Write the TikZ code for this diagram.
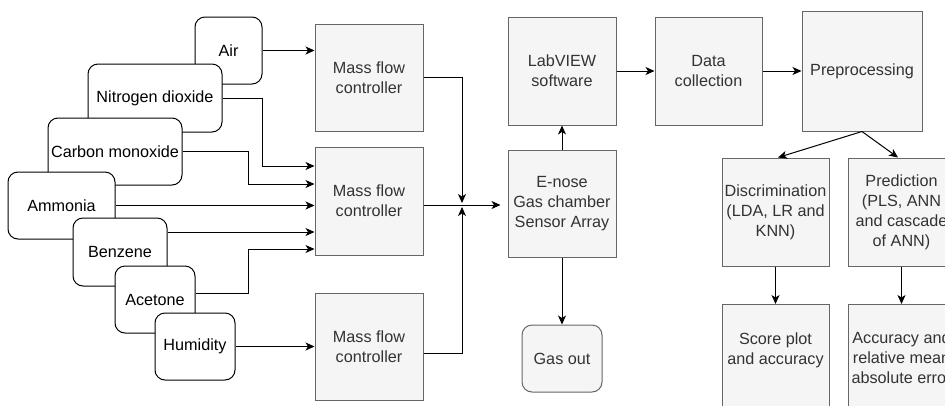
\documentclass[tikz,border=0pt]{standalone}
\usepackage{fontspec}
\setmainfont{Liberation Sans}
\usetikzlibrary{arrows.meta,calc}

\definecolor{boxfill}{HTML}{F5F5F5}
\definecolor{boxline}{HTML}{666666}
\definecolor{boxtext}{HTML}{333333}

\begin{document}
\begin{tikzpicture}[x=1pt,y=-1pt,
  every node/.style={font=\fontsize{16.2}{20}\selectfont},
  gas/.style={draw=black, fill=white, line width=1pt, rounded corners=10pt,
              inner sep=0pt, align=center, text=black},
  stage/.style={draw=boxline, fill=boxfill, line width=1pt, inner sep=0pt,
                align=center, text=boxtext},
  outlet/.style={stage, rounded corners=10pt},
  caption/.style={align=center, text=boxtext, inner sep=0pt},
  flow/.style={draw=black, line width=1pt,
               -{Stealth[length=9pt,width=8pt,inset=2.5pt]}}
]
\useasboundingbox (0,0) rectangle (945,405);
\clip (0,0) rectangle (945,405);
\fill[white] (0,0) rectangle (945,405);

% gas sources, each one drawn over the previous one
\node[gas, minimum width=67,  minimum height=67] (air)  at (228.5,50.5) {Air};
\node[gas, minimum width=134, minimum height=68] (no2)  at (155,98)     {Nitrogen dioxide};
\node[gas, minimum width=134, minimum height=67] (co)   at (115,151.5)  {Carbon monoxide};
\node[gas, minimum width=107, minimum height=67] (amm)  at (61.5,205.5) {Ammonia};
\node[gas, minimum width=94,  minimum height=68] (benz) at (120,252)    {Benzene};
\node[gas, minimum width=80,  minimum height=67] (acet) at (155,299.5)  {Acetone};
\node[gas, minimum width=80,  minimum height=67] (hum)  at (195,346.5)  {Humidity};

% mass flow controllers
\node[stage, minimum width=108, minimum height=107] (mfc1) at (369,77.5)  {Mass flow\\controller};
\node[stage, minimum width=108, minimum height=108] (mfc2) at (369,201)   {Mass flow\\controller};
\node[stage, minimum width=108, minimum height=107] (mfc3) at (369,346.5) {Mass flow\\controller};

% measurement chain
\node[stage, minimum width=108, minimum height=107] (enose)   at (562,203.5) {E-nose\\Gas chamber\\Sensor Array};
\node[stage, minimum width=108, minimum height=108] (labview) at (562,71)    {LabVIEW\\software};
\node[outlet, minimum width=80, minimum height=67]  (gasout)  at (562,358.5) {Gas out};
\node[stage, minimum width=107, minimum height=108] (data)    at (708.5,71)  {Data\\collection};
\node[stage, minimum width=120, minimum height=120] (prep)    at (862,71)    {Preprocessing};

% analysis
\node[stage, minimum width=107, minimum height=108] (disc) at (775.5,212) {Discrimination\\(LDA, LR and\\KNN)};
\node[stage, minimum width=107, minimum height=108] (pred) at (901.5,212) {Prediction\\(PLS, ANN\\and cascade\\of ANN)};
\node[stage, anchor=north, minimum width=107, minimum height=120] (score) at (775.5,304) {};
\node[stage, anchor=north, minimum width=107, minimum height=120] (acc)   at (901.5,304) {};
\node[caption] (scoretext) at (775.5,350) {Score plot\\and accuracy};
\node[caption] (acctext)   at (901.5,358) {Accuracy and\\relative mean\\absolute error};

% gas lines into the controllers
\draw[flow] (air.east) -- (air.east -| mfc1.west);
\draw[flow] (no2.east) -- ++(40,0) |- ([yshift=35pt]mfc2.west);
\draw[flow] (co.east) -- ++(66,0) |- ([yshift=17pt]mfc2.west);
\draw[flow] (amm.east) -- (amm.east -| mfc2.west);
\draw[flow] ([yshift=20pt]benz.east) -- ([yshift=20pt]benz.east -| mfc2.west);
\draw[flow] ([yshift=6.5pt]acet.east) -- ++(53,0) |- ([yshift=-48pt]mfc2.west);
\draw[flow] (hum.east) -- (hum.east -| mfc3.west);

% mixing point and chamber
\coordinate (mix) at (462,205);
\draw[flow, shorten >=2pt] (mfc1.east) -| (mix);
\draw[flow, shorten >=2pt] ([yshift=-6.5pt]mfc3.east) -| (mix);
\draw[flow, shorten >=7pt] (mix -| mfc2.east) -- (mix -| enose.west);
\draw[flow] (enose.north) -- (labview.south);
\draw[flow] (enose.south) -- (gasout.north);

% data flow
\draw[flow] (labview.east) -- (data.west);
\draw[flow] (data.east) -- (prep.west);
\draw[flow] (prep.south) -- ([xshift=2.5pt]disc.north);
\draw[flow] (prep.south) -- ([xshift=-3.5pt]pred.north);
\draw[flow] (disc.south) -- (score.north);
\draw[flow] (pred.south) -- (acc.north);
\end{tikzpicture}
\end{document}
